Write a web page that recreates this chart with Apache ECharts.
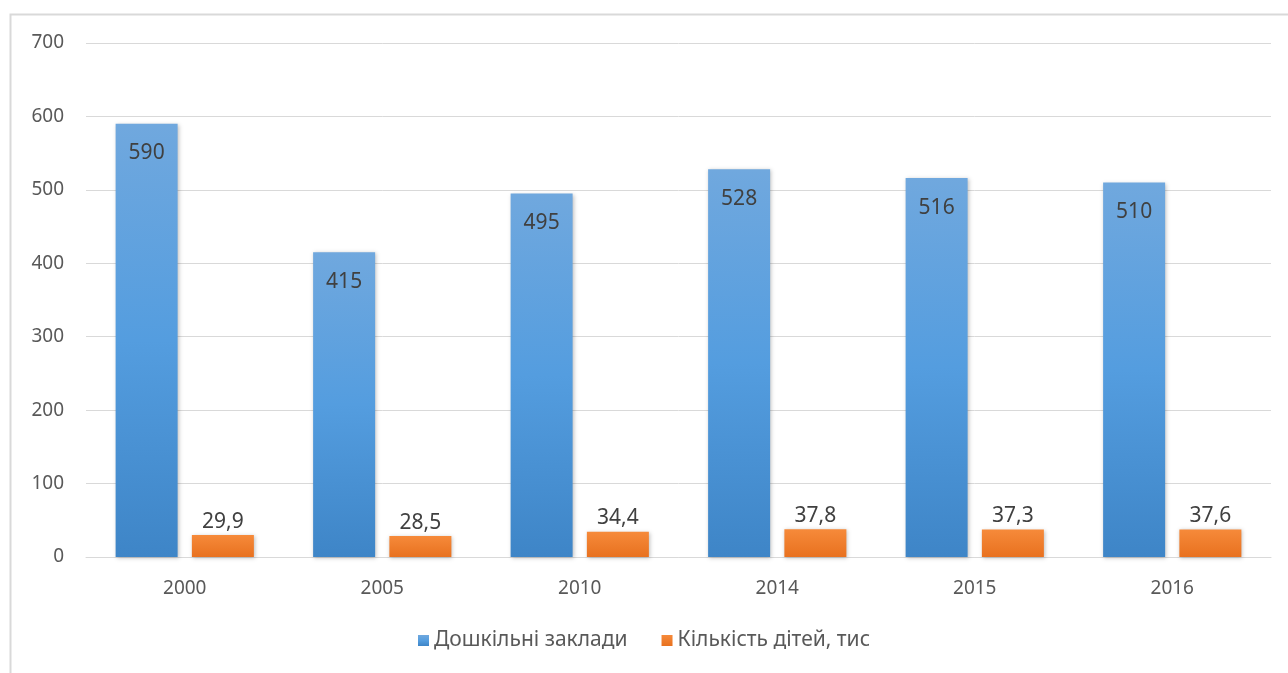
<!DOCTYPE html>
<html>
<head>
<meta charset="utf-8">
<script src="https://cdn.jsdelivr.net/npm/echarts@6/dist/echarts.min.js"></script>
<style>
html, body { margin: 0; padding: 0; background: #fff; }
#chart { width: 1288px; height: 673px; }
</style>
</head>
<body>
<div id="chart"></div>
<script>
var years = ['2000', '2005', '2010', '2014', '2015', '2016'];
var zaklady = [590, 415, 495, 528, 516, 510];
var dity = [29.9, 28.5, 34.4, 37.8, 37.3, 37.6];
var yTicks = [0, 100, 200, 300, 400, 500, 600, 700];

var font = '"Noto Sans", "Open Sans", sans-serif';
var myChart = echarts.init(document.getElementById('chart'));

function fmt(p) {
	return String(p.value).replace('.', ',');
}

myChart.setOption({
	animation: false,
	textStyle: { fontFamily: font },
	graphic: [{
		// рамка діаграми
		type: 'polyline',
		shape: { points: [[10.5, 673], [10.5, 14.5], [1288, 14.5]] },
		style: { stroke: '#d9d9d9', lineWidth: 2, fill: null },
		silent: true
	}],
	grid: { left: 86, right: 17, top: 43, bottom: 116 },
	legend: {
		bottom: 17,
		left: 'center',
		itemWidth: 11,
		itemHeight: 11,
		itemGap: 34,
		icon: 'rect',
		textStyle: { fontSize: 21, color: '#595959', fontFamily: font }
	},
	xAxis: {
		type: 'category',
		data: years,
		axisTick: { show: false },
		axisLine: { lineStyle: { color: '#d9d9d9', width: 1 } },
		axisLabel: { fontSize: 19, color: '#595959', margin: 22 }
	},
	yAxis: {
		type: 'value',
		min: yTicks[0],
		max: yTicks[yTicks.length - 1],
		interval: 100,
		axisLine: { show: false },
		axisTick: { show: false },
		axisLabel: { fontSize: 19, color: '#595959', margin: 22, align: 'right' },
		splitLine: { lineStyle: { color: '#d9d9d9', width: 1 } }
	},
	series: [{
		name: 'Дошкільні заклади',
		type: 'bar',
		data: zaklady,
		barWidth: 62,
		barGap: '23%',
		itemStyle: {
			color: new echarts.graphic.LinearGradient(0, 0, 0, 1, [
				{ offset: 0, color: '#70a8de' },
				{ offset: 0.5, color: '#549ddf' },
				{ offset: 1, color: '#3e85c7' }
			]),
			shadowColor: 'rgba(0,0,0,0.25)',
			shadowBlur: 4,
			shadowOffsetX: 1,
			shadowOffsetY: 1
		},
		label: {
			show: true,
			position: 'insideTop',
			distance: 19,
			fontSize: 21,
			color: '#404040',
			formatter: fmt
		}
	}, {
		name: 'Кількість дітей, тис',
		type: 'bar',
		data: dity,
		barWidth: 62,
		itemStyle: {
			color: new echarts.graphic.LinearGradient(0, 0, 0, 1, [
				{ offset: 0, color: '#f68a3a' },
				{ offset: 1, color: '#e8711f' }
			]),
			shadowColor: 'rgba(0,0,0,0.25)',
			shadowBlur: 4,
			shadowOffsetX: 1,
			shadowOffsetY: 1
		},
		label: {
			show: true,
			position: 'top',
			distance: 3,
			fontSize: 21,
			color: '#404040',
			formatter: fmt
		}
	}]
});
</script>
</body>
</html>
